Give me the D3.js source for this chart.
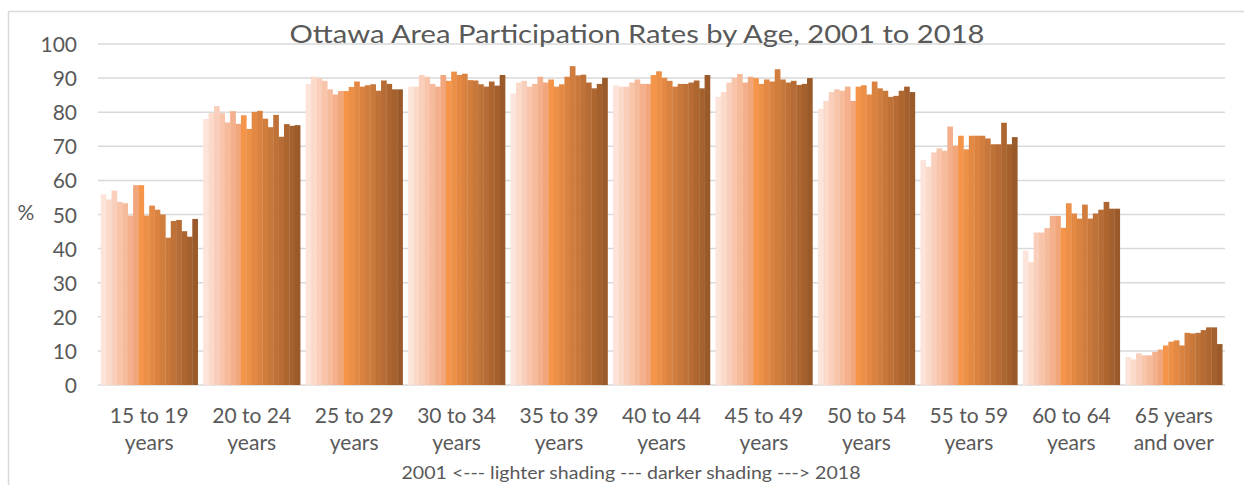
<!DOCTYPE html>
<html>
<head>
<meta charset="utf-8">
<script src="https://cdn.jsdelivr.net/npm/d3@7"></script>
<style>
	body { margin: 0; background: #fff; }
	svg { display: block; font-family: Lato, "Open Sans", sans-serif; }
</style>
</head>
<body>
<svg id="chart" width="1244" height="485"></svg>
<script>
var ageGroups = [["15 to 19", "years"], ["20 to 24", "years"], ["25 to 29", "years"], ["30 to 34", "years"],
	["35 to 39", "years"], ["40 to 44", "years"], ["45 to 49", "years"], ["50 to 54", "years"],
	["55 to 59", "years"], ["60 to 64", "years"], ["65 years", "and over"]];

var years = [2001, 2002, 2003, 2004, 2005, 2006, 2007, 2008, 2009,
	2010, 2011, 2012, 2013, 2014, 2015, 2016, 2017, 2018];

// participation rate (%) per year, 2001 -> 2018
var age15to19 = [55.9, 54.4, 57.0, 53.7, 53.3, 49.7, 58.6, 58.6, 49.7, 52.6, 51.4, 50.0, 43.2, 48.1, 48.4, 45.1, 43.5, 48.7];
var age20to24 = [78.0, 79.7, 81.8, 79.7, 77.0, 80.3, 76.6, 79.1, 75.1, 80.1, 80.4, 78.1, 75.6, 79.2, 72.8, 76.5, 76.0, 76.2];
var age25to29 = [88.3, 90.4, 90.0, 89.2, 86.7, 85.2, 86.2, 86.2, 87.4, 89.0, 87.5, 87.9, 88.2, 86.3, 89.3, 88.3, 86.7, 86.7];
var age30to34 = [87.5, 87.5, 90.9, 90.4, 88.3, 87.5, 90.9, 89.2, 91.9, 90.9, 91.3, 89.4, 89.3, 88.2, 87.5, 89.0, 87.8, 90.9];
var age35to39 = [85.5, 88.7, 89.2, 87.5, 88.3, 90.4, 88.7, 89.6, 87.5, 88.2, 90.4, 93.5, 90.8, 91.0, 88.7, 87.0, 88.3, 90.1];
var age40to44 = [87.9, 87.5, 87.5, 88.7, 89.6, 88.3, 88.3, 90.9, 92.0, 90.1, 89.2, 87.5, 88.3, 88.3, 88.7, 89.3, 87.0, 90.9];
var age45to49 = [84.5, 85.9, 88.7, 90.1, 91.2, 88.7, 90.4, 90.0, 88.3, 89.6, 89.0, 92.6, 89.6, 88.7, 89.2, 88.0, 88.3, 90.0];
var age50to54 = [81.0, 83.3, 85.9, 86.7, 86.3, 87.5, 83.3, 87.5, 87.9, 85.2, 89.0, 87.0, 86.3, 84.5, 84.8, 86.3, 87.5, 85.9];
var age55to59 = [66.0, 64.0, 68.2, 69.4, 68.7, 75.8, 70.2, 73.1, 69.1, 73.1, 73.1, 73.1, 72.3, 70.6, 70.6, 76.9, 70.6, 72.7];
var age60to64 = [39.4, 36.0, 44.7, 44.7, 46.0, 49.6, 49.6, 46.1, 53.3, 50.3, 48.8, 52.9, 48.8, 50.3, 51.4, 53.7, 51.7, 51.7];
var age65plus = [8.2, 7.5, 9.3, 8.7, 8.7, 9.7, 10.4, 11.6, 12.7, 13.1, 11.6, 15.3, 15.1, 15.3, 16.1, 16.9, 16.9, 12.0];

var groupValues = [age15to19, age20to24, age25to29, age30to34, age35to39, age40to44,
	age45to49, age50to54, age55to59, age60to64, age65plus];

var yTicks = [0, 10, 20, 30, 40, 50, 60, 70, 80, 90, 100];

var svg = d3.select("#chart");
var textColor = "#595959";
var gridColor = "#d9d9d9";

// chart frame (only left & top edges show in the picture)
svg.append("rect")
	.attr("x", 8.5).attr("y", 11.5)
	.attr("width", 1300).attr("height", 600)
	.attr("fill", "none")
	.attr("stroke", gridColor)
	.attr("stroke-width", 1.5);

var plotLeft = 98, plotRight = 1225;

var x0 = d3.scaleBand()
	.domain(d3.range(ageGroups.length))
	.range([plotLeft, plotRight])
	.paddingInner(0.054)
	.paddingOuter(0.027);

var x1 = d3.scaleBand()
	.domain(years)
	.range([0, x0.bandwidth()]);

var y = d3.scaleLinear()
	.domain([0, 100])
	.range([385, 44]);

// light peach -> orange -> brown
var shade = d3.scaleLinear()
	.domain([0, 6, 7, 17])
	.range(["#fde4da", "#f2a67c", "#f5954a", "#9b5a2a"])
	.interpolate(d3.interpolateRgb);

// gridlines
svg.append("g")
	.selectAll("line")
	.data(yTicks)
	.enter().append("line")
	.attr("x1", plotLeft).attr("x2", plotRight)
	.attr("y1", function(d){ return y(d); })
	.attr("y2", function(d){ return y(d); })
	.attr("stroke", gridColor)
	.attr("stroke-width", 1.5);

// y axis labels
var yAxis = d3.axisLeft(y).tickValues(yTicks).tickSize(0).tickPadding(0);
var yg = svg.append("g")
	.attr("transform", "translate(77,0)")
	.call(yAxis);
yg.select(".domain").remove();
yg.selectAll("text")
	.attr("fill", textColor)
	.attr("font-size", 21)
	.attr("font-family", "Lato, 'Open Sans', sans-serif")
	.attr("dy", "0.36em");

svg.append("text")
	.attr("x", 26).attr("y", 212)
	.attr("text-anchor", "middle")
	.attr("dy", "0.36em")
	.attr("font-size", 21)
	.attr("fill", textColor)
	.text("%");

// bars
var groups = svg.append("g")
	.selectAll("g")
	.data(groupValues)
	.enter().append("g")
	.attr("transform", function(d, i){ return "translate(" + x0(i) + ",0)"; });

groups.selectAll("rect")
	.data(function(d){ return d; })
	.enter().append("rect")
	.attr("x", function(d, i){ return x1(years[i]); })
	.attr("y", function(d){ return y(d); })
	.attr("width", x1.bandwidth() + 0.3)
	.attr("height", function(d){ return y(0) - y(d); })
	.attr("fill", function(d, i){ return shade(i); });

// x labels (two lines)
var xl = svg.append("g")
	.selectAll("text")
	.data(ageGroups)
	.enter().append("text")
	.attr("text-anchor", "middle")
	.attr("font-size", 21)
	.attr("fill", textColor)
	.attr("transform", function(d, i){ return "translate(" + (x0(i) + x0.bandwidth() / 2) + ",0)"; });

xl.append("tspan").attr("x", 0).attr("y", 423).text(function(d){ return d[0]; });
xl.append("tspan").attr("x", 0).attr("y", 450).text(function(d){ return d[1]; });

// title
svg.append("text")
	.attr("x", 637).attr("y", 43)
	.attr("text-anchor", "middle")
	.attr("font-size", 25)
	.attr("fill", textColor)
	.attr("textLength", 695)
	.attr("lengthAdjust", "spacingAndGlyphs")
	.text("Ottawa Area Participation Rates by Age, 2001 to 2018");

// caption
svg.append("text")
	.attr("x", 631).attr("y", 479)
	.attr("text-anchor", "middle")
	.attr("font-size", 17)
	.attr("fill", textColor)
	.attr("textLength", 459)
	.attr("lengthAdjust", "spacingAndGlyphs")
	.text("2001 <--- lighter shading --- darker shading ---> 2018");
</script>
</body>
</html>
